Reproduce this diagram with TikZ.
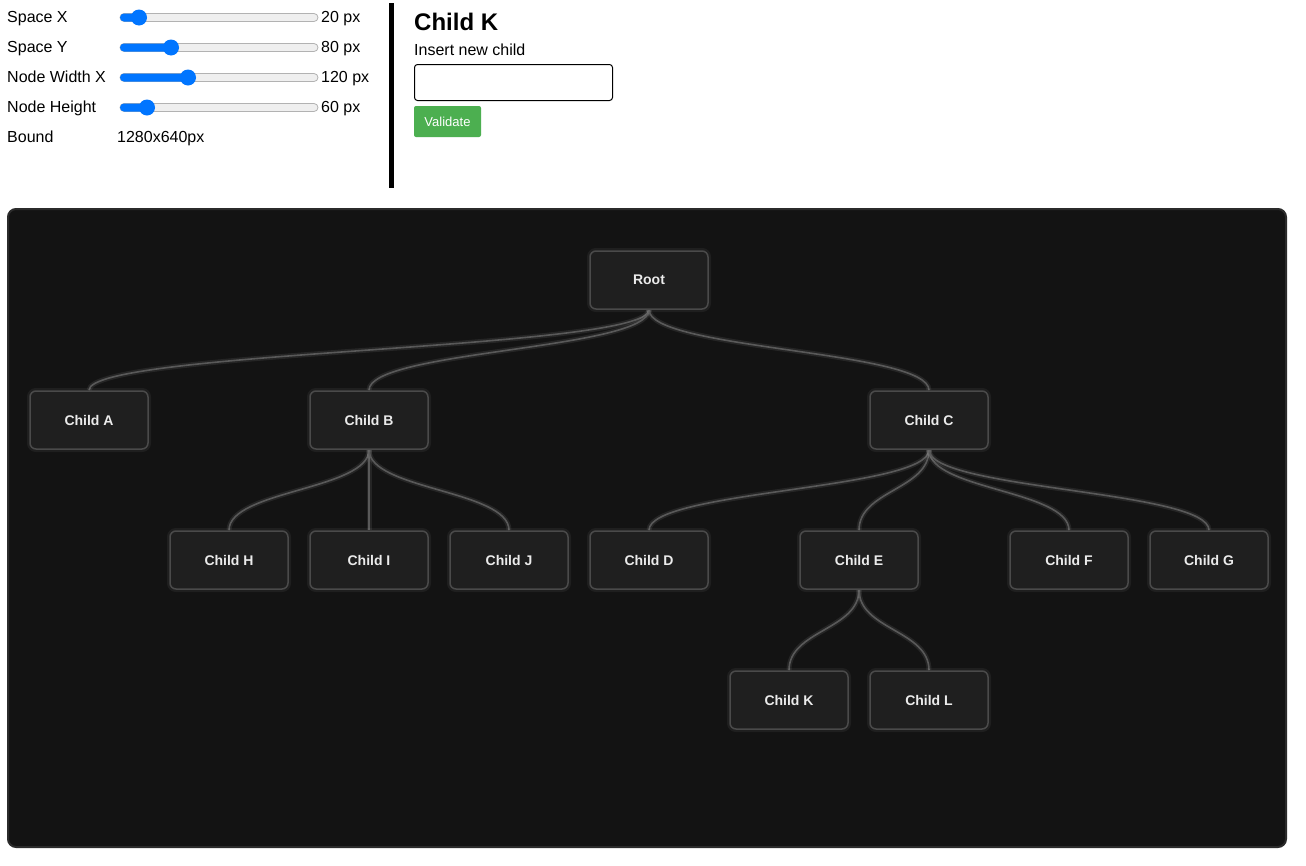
\documentclass[tikz,border=0pt]{standalone}
\usepackage{fontspec}
\setmainfont{Liberation Sans}
\usepackage{tikz}
\definecolor{panelbg}{HTML}{131313}
\definecolor{panelline}{HTML}{2B2B2B}
\definecolor{nodefill}{HTML}{1F1F1F}
\definecolor{nodeline}{HTML}{4A4A4A}
\definecolor{linkgrey}{HTML}{595959}
\definecolor{sliderblue}{HTML}{0075FF}
\definecolor{tracklight}{HTML}{EFEFEF}
\definecolor{trackline}{HTML}{B2B2B2}
\definecolor{okgreen}{HTML}{4CAF50}
\pgfdeclarelayer{panel}
\pgfdeclarelayer{edges}
\pgfsetlayers{panel,edges,main}
\tikzset{
  treenode/.style = {draw=nodeline, fill=nodefill, line width=1.5pt, rounded corners=6pt,
    minimum width=118pt, minimum height=58pt, inner sep=0pt, text=white!92!black,
    font=\fontsize{14}{16}\selectfont\bfseries,
    preaction={draw=white, opacity=.05, line width=6pt}},
  link/.style = {draw=linkgrey, line width=1.6pt,
    preaction={draw=white, opacity=.08, line width=5pt}},
  formtext/.style = {anchor=base west, inner sep=0pt, font=\fontsize{16}{18}\selectfont},
  track/.style = {draw=trackline, fill=tracklight, line width=.8pt, rounded corners=4pt},
  thumb/.style = {fill=sliderblue}
}
\newcommand\treelink[2]{\draw[link] (#1.south) .. controls +(0,40) and +(0,-40) .. (#2.north);}

\begin{document}
\begin{tikzpicture}[x=1pt, y=-1pt]
\useasboundingbox (0,0) rectangle (1306,865);

\begin{pgfonlayer}{panel}
\fill[white] (0,0) rectangle (1306,865);
\draw[fill=panelbg, draw=panelline, line width=2pt, rounded corners=8pt] (8,209) rectangle (1286,847);
\end{pgfonlayer}

\foreach \name/\txt/\val/\pos/\yy in {sx/Space X/20 px/139/22, sy/Space Y/80 px/171/52,
    nw/Node Width X/120 px/188/82, nh/Node Height/60 px/147/112} {
  \node[formtext] (lbl-\name) at (7,\yy) {\txt};
  \node[formtext] (val-\name) at (321,\yy) {\val};
  \draw[track] (120,\yy-8.5) rectangle (318,\yy-0.5);
  \fill[sliderblue, rounded corners=4pt] (120,\yy-8.5) rectangle (\pos,\yy-0.5);
  \fill[thumb] (\pos,\yy-4.5) circle (8);
}
\node[formtext] (lbl-bound) at (7,142) {Bound};
\node[formtext] (val-bound) at (117,142) {1280x640px};

\fill[black] (389,3) rectangle (393.5,188);
\node[formtext, font=\fontsize{24}{28}\selectfont\bfseries] (title) at (414,30) {Child K};
\node[formtext] (insert) at (414,55) {Insert new child};
\draw[black, line width=1pt, rounded corners=3pt] (414.5,64.5) rectangle (612.5,100.5);
\node[fill=okgreen, rounded corners=2pt, minimum width=67pt, minimum height=31pt, inner sep=0pt,
  text=white, font=\fontsize{13}{15}\selectfont] (validate) at (447.5,121.5) {Validate};

\node[treenode] (root) at (649,280) {Root};
\node[treenode] (a) at (89,420) {Child A};
\node[treenode] (b) at (369,420) {Child B};
\node[treenode] (c) at (929,420) {Child C};
\node[treenode] (h) at (229,560) {Child H};
\node[treenode] (i) at (369,560) {Child I};
\node[treenode] (j) at (509,560) {Child J};
\node[treenode] (d) at (649,560) {Child D};
\node[treenode] (e) at (859,560) {Child E};
\node[treenode] (f) at (1069,560) {Child F};
\node[treenode] (g) at (1209,560) {Child G};
\node[treenode] (k) at (789,700) {Child K};
\node[treenode] (l) at (929,700) {Child L};

\begin{pgfonlayer}{edges}
\foreach \p/\c in {root/a, root/b, root/c, b/h, b/i, b/j, c/d, c/e, c/f, c/g, e/k, e/l}
  {\treelink{\p}{\c}}
\end{pgfonlayer}

\end{tikzpicture}
\end{document}
